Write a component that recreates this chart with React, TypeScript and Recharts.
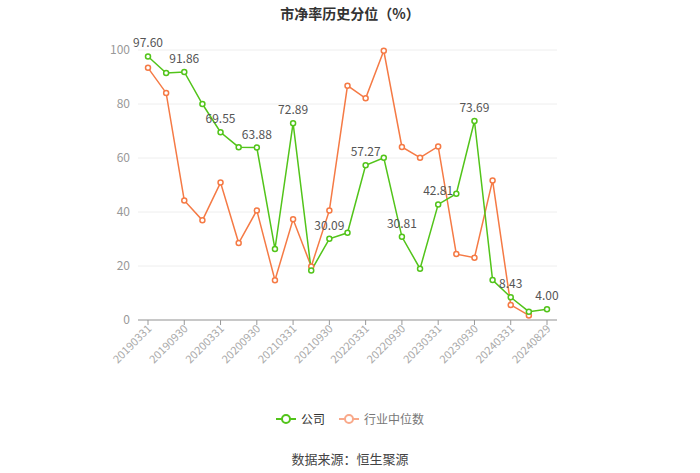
import { LineChart, Line, XAxis, YAxis, CartesianGrid, LabelList } from 'recharts'

const periods = [
  '20190331', '20190630', '20190930', '20191231',
  '20200331', '20200630', '20200930', '20201231',
  '20210331', '20210630', '20210930', '20211231',
  '20220331', '20220630', '20220930', '20221231',
  '20230331', '20230630', '20230930', '20231231',
  '20240331', '20240630', '20240829',
]

const company = [
  97.6, 91.5, 91.86, 80.0, 69.55, 64.0, 63.88, 26.3, 72.89, 18.3, 30.09, 32.3,
  57.27, 60.1, 30.81, 19.0, 42.81, 46.8, 73.69, 14.8, 8.43, 3.1, 4.0,
]

const industryMedian: (number | null)[] = [
  93.4, 84.1, 44.3, 36.9, 50.9, 28.5, 40.6, 14.7, 37.3, 19.8, 40.6, 86.8,
  82.1, 99.7, 64.1, 60.1, 64.3, 24.4, 23.1, 51.7, 5.6, 1.7, null,
]

const yTicks = [0, 20, 40, 60, 80, 100]

const GREEN = '#52c41a'
const ORANGE = '#f57a45'

const data = periods.map((p, i) => ({
  date: p,
  company: company[i],
  industry: industryMedian[i],
}))

const XTick = (props: any) => {
  const { x, y, payload, index } = props
  if (index % 2 !== 0) return null
  return (
    <g transform={`translate(${x},${y})`}>
      <line x1={0} y1={-8} x2={0} y2={-3} stroke="#999" />
      <text x={2} y={4} textAnchor="end" fill="#aaa" fontSize={11} transform="rotate(-45)">
        {payload.value}
      </text>
    </g>
  )
}

const PointLabel = (props: any) => {
  const { x, y, value, index } = props
  if (index % 2 !== 0) return null
  return (
    <text x={x} y={y - 9} textAnchor="middle" fill="#555" fontSize={12}>
      {Number(value).toFixed(2)}
    </text>
  )
}

const LegendIcon = ({ color }: { color: string }) => (
  <svg width={20} height={12} style={{ verticalAlign: 'middle', marginRight: 5 }}>
    <line x1={0} y1={6} x2={20} y2={6} stroke={color} strokeWidth={2} />
    <circle cx={10} cy={6} r={4} fill="#fff" stroke={color} strokeWidth={2} />
  </svg>
)

export default function App() {
  return (
    <div
      style={{
        position: 'absolute',
        left: 0,
        top: 0,
        width: 700,
        height: 473,
        background: '#fff',
        fontFamily: '"Noto Sans CJK SC", "Noto Sans", sans-serif',
      }}
    >
      <div
        style={{
          position: 'absolute',
          top: 3,
          width: 700,
          textAlign: 'center',
          fontSize: 14,
          fontWeight: 'bold',
          color: '#333',
        }}
      >
        市净率历史分位（%）
      </div>

      <LineChart
        width={700}
        height={473}
        data={data}
        margin={{ top: 50, right: 143, bottom: 93, left: 100 }}
      >
        <CartesianGrid vertical={false} stroke="#eee" />
        <XAxis
          dataKey="date"
          interval={0}
          height={60}
          padding={{ left: 10, right: 10 }}
          axisLine={{ stroke: '#999' }}
          tickLine={false}
          tick={<XTick />}
        />
        <YAxis
          width={38}
          domain={[0, 100]}
          ticks={yTicks}
          axisLine={false}
          tickLine={false}
          tick={{ fill: '#999', fontSize: 12 }}
        />
        <Line
          type="linear"
          dataKey="industry"
          stroke={ORANGE}
          strokeWidth={1.5}
          dot={{ r: 2.5, fill: '#fff', stroke: ORANGE, strokeWidth: 1.5 }}
          isAnimationActive={false}
        />
        <Line
          type="linear"
          dataKey="company"
          stroke={GREEN}
          strokeWidth={1.5}
          dot={{ r: 2.5, fill: '#fff', stroke: GREEN, strokeWidth: 1.5 }}
          isAnimationActive={false}
        >
          <LabelList dataKey="company" content={<PointLabel />} />
        </Line>
      </LineChart>

      <div
        style={{
          position: 'absolute',
          top: 408,
          width: 700,
          textAlign: 'center',
          fontSize: 12,
          color: '#333',
        }}
      >
        <span style={{ marginRight: 14 }}>
          <LegendIcon color={GREEN} />
          <span style={{ verticalAlign: 'middle' }}>公司</span>
        </span>
        <span>
          <LegendIcon color="#f9a98a" />
          <span style={{ verticalAlign: 'middle', color: '#777' }}>行业中位数</span>
        </span>
      </div>

      <div
        style={{
          position: 'absolute',
          top: 449,
          width: 700,
          textAlign: 'center',
          fontSize: 13,
          color: '#444',
        }}
      >
        数据来源：恒生聚源
      </div>
    </div>
  )
}
